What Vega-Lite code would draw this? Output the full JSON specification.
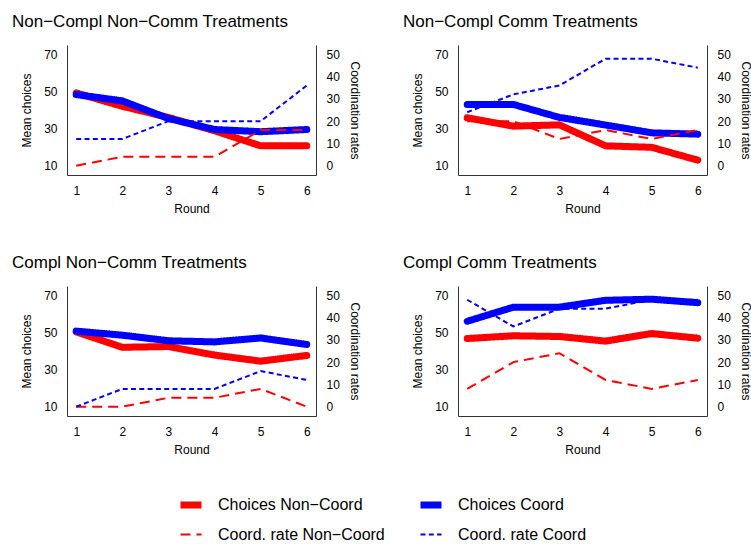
{
  "$schema": "https://vega.github.io/schema/vega-lite/v6.json",
  "background": "white",
  "padding": {"left": 12, "top": 13, "right": 0, "bottom": 0},
  "data": {"values": [
    {"panel": "P1", "round": 1, "series": "Choices Non−Coord", "value": 49.2},
    {"panel": "P1", "round": 2, "series": "Choices Non−Coord", "value": 42},
    {"panel": "P1", "round": 3, "series": "Choices Non−Coord", "value": 36},
    {"panel": "P1", "round": 4, "series": "Choices Non−Coord", "value": 28.8},
    {"panel": "P1", "round": 5, "series": "Choices Non−Coord", "value": 20.7},
    {"panel": "P1", "round": 6, "series": "Choices Non−Coord", "value": 20.7},
    {"panel": "P1", "round": 1, "series": "Choices Coord", "value": 48.3},
    {"panel": "P1", "round": 2, "series": "Choices Coord", "value": 44.9},
    {"panel": "P1", "round": 3, "series": "Choices Coord", "value": 35.4},
    {"panel": "P1", "round": 4, "series": "Choices Coord", "value": 29.5},
    {"panel": "P1", "round": 5, "series": "Choices Coord", "value": 28.3},
    {"panel": "P1", "round": 6, "series": "Choices Coord", "value": 29.5},
    {"panel": "P1", "round": 1, "series": "Coord. rate Non−Coord", "value": 0},
    {"panel": "P1", "round": 2, "series": "Coord. rate Non−Coord", "value": 4},
    {"panel": "P1", "round": 3, "series": "Coord. rate Non−Coord", "value": 4},
    {"panel": "P1", "round": 4, "series": "Coord. rate Non−Coord", "value": 4},
    {"panel": "P1", "round": 5, "series": "Coord. rate Non−Coord", "value": 16},
    {"panel": "P1", "round": 6, "series": "Coord. rate Non−Coord", "value": 16},
    {"panel": "P1", "round": 1, "series": "Coord. rate Coord", "value": 12},
    {"panel": "P1", "round": 2, "series": "Coord. rate Coord", "value": 12},
    {"panel": "P1", "round": 3, "series": "Coord. rate Coord", "value": 20},
    {"panel": "P1", "round": 4, "series": "Coord. rate Coord", "value": 20},
    {"panel": "P1", "round": 5, "series": "Coord. rate Coord", "value": 20},
    {"panel": "P1", "round": 6, "series": "Coord. rate Coord", "value": 36},

    {"panel": "P2", "round": 1, "series": "Choices Non−Coord", "value": 35.8},
    {"panel": "P2", "round": 2, "series": "Choices Non−Coord", "value": 31.3},
    {"panel": "P2", "round": 3, "series": "Choices Non−Coord", "value": 32},
    {"panel": "P2", "round": 4, "series": "Choices Non−Coord", "value": 20.7},
    {"panel": "P2", "round": 5, "series": "Choices Non−Coord", "value": 19.9},
    {"panel": "P2", "round": 6, "series": "Choices Non−Coord", "value": 13},
    {"panel": "P2", "round": 1, "series": "Choices Coord", "value": 43},
    {"panel": "P2", "round": 2, "series": "Choices Coord", "value": 43},
    {"panel": "P2", "round": 3, "series": "Choices Coord", "value": 36},
    {"panel": "P2", "round": 4, "series": "Choices Coord", "value": 31.9},
    {"panel": "P2", "round": 5, "series": "Choices Coord", "value": 27.7},
    {"panel": "P2", "round": 6, "series": "Choices Coord", "value": 27},
    {"panel": "P2", "round": 1, "series": "Coord. rate Non−Coord", "value": 20},
    {"panel": "P2", "round": 2, "series": "Coord. rate Non−Coord", "value": 20},
    {"panel": "P2", "round": 3, "series": "Coord. rate Non−Coord", "value": 12},
    {"panel": "P2", "round": 4, "series": "Coord. rate Non−Coord", "value": 16},
    {"panel": "P2", "round": 5, "series": "Coord. rate Non−Coord", "value": 12},
    {"panel": "P2", "round": 6, "series": "Coord. rate Non−Coord", "value": 16},
    {"panel": "P2", "round": 1, "series": "Coord. rate Coord", "value": 24},
    {"panel": "P2", "round": 2, "series": "Coord. rate Coord", "value": 32},
    {"panel": "P2", "round": 3, "series": "Coord. rate Coord", "value": 36},
    {"panel": "P2", "round": 4, "series": "Coord. rate Coord", "value": 48},
    {"panel": "P2", "round": 5, "series": "Coord. rate Coord", "value": 48},
    {"panel": "P2", "round": 6, "series": "Coord. rate Coord", "value": 44},

    {"panel": "P3", "round": 1, "series": "Choices Non−Coord", "value": 50.3},
    {"panel": "P3", "round": 2, "series": "Choices Non−Coord", "value": 42},
    {"panel": "P3", "round": 3, "series": "Choices Non−Coord", "value": 42.4},
    {"panel": "P3", "round": 4, "series": "Choices Non−Coord", "value": 37.8},
    {"panel": "P3", "round": 5, "series": "Choices Non−Coord", "value": 34.5},
    {"panel": "P3", "round": 6, "series": "Choices Non−Coord", "value": 37.6},
    {"panel": "P3", "round": 1, "series": "Choices Coord", "value": 50.7},
    {"panel": "P3", "round": 2, "series": "Choices Coord", "value": 48.5},
    {"panel": "P3", "round": 3, "series": "Choices Coord", "value": 45.5},
    {"panel": "P3", "round": 4, "series": "Choices Coord", "value": 44.9},
    {"panel": "P3", "round": 5, "series": "Choices Coord", "value": 47},
    {"panel": "P3", "round": 6, "series": "Choices Coord", "value": 43.5},
    {"panel": "P3", "round": 1, "series": "Coord. rate Non−Coord", "value": 0},
    {"panel": "P3", "round": 2, "series": "Coord. rate Non−Coord", "value": 0},
    {"panel": "P3", "round": 3, "series": "Coord. rate Non−Coord", "value": 4},
    {"panel": "P3", "round": 4, "series": "Coord. rate Non−Coord", "value": 4},
    {"panel": "P3", "round": 5, "series": "Coord. rate Non−Coord", "value": 8},
    {"panel": "P3", "round": 6, "series": "Coord. rate Non−Coord", "value": 0},
    {"panel": "P3", "round": 1, "series": "Coord. rate Coord", "value": 0},
    {"panel": "P3", "round": 2, "series": "Coord. rate Coord", "value": 8},
    {"panel": "P3", "round": 3, "series": "Coord. rate Coord", "value": 8},
    {"panel": "P3", "round": 4, "series": "Coord. rate Coord", "value": 8},
    {"panel": "P3", "round": 5, "series": "Coord. rate Coord", "value": 16},
    {"panel": "P3", "round": 6, "series": "Coord. rate Coord", "value": 12},

    {"panel": "P4", "round": 1, "series": "Choices Non−Coord", "value": 46.7},
    {"panel": "P4", "round": 2, "series": "Choices Non−Coord", "value": 48.2},
    {"panel": "P4", "round": 3, "series": "Choices Non−Coord", "value": 47.8},
    {"panel": "P4", "round": 4, "series": "Choices Non−Coord", "value": 45.3},
    {"panel": "P4", "round": 5, "series": "Choices Non−Coord", "value": 49.4},
    {"panel": "P4", "round": 6, "series": "Choices Non−Coord", "value": 46.9},
    {"panel": "P4", "round": 1, "series": "Choices Coord", "value": 56},
    {"panel": "P4", "round": 2, "series": "Choices Coord", "value": 63.6},
    {"panel": "P4", "round": 3, "series": "Choices Coord", "value": 63.6},
    {"panel": "P4", "round": 4, "series": "Choices Coord", "value": 67.3},
    {"panel": "P4", "round": 5, "series": "Choices Coord", "value": 67.9},
    {"panel": "P4", "round": 6, "series": "Choices Coord", "value": 66},
    {"panel": "P4", "round": 1, "series": "Coord. rate Non−Coord", "value": 8},
    {"panel": "P4", "round": 2, "series": "Coord. rate Non−Coord", "value": 20},
    {"panel": "P4", "round": 3, "series": "Coord. rate Non−Coord", "value": 24},
    {"panel": "P4", "round": 4, "series": "Coord. rate Non−Coord", "value": 12},
    {"panel": "P4", "round": 5, "series": "Coord. rate Non−Coord", "value": 8},
    {"panel": "P4", "round": 6, "series": "Coord. rate Non−Coord", "value": 12},
    {"panel": "P4", "round": 1, "series": "Coord. rate Coord", "value": 48},
    {"panel": "P4", "round": 2, "series": "Coord. rate Coord", "value": 36},
    {"panel": "P4", "round": 3, "series": "Coord. rate Coord", "value": 44},
    {"panel": "P4", "round": 4, "series": "Coord. rate Coord", "value": 44},
    {"panel": "P4", "round": 5, "series": "Coord. rate Coord", "value": 48},
    {"panel": "P4", "round": 6, "series": "Coord. rate Coord", "value": 48}
  ]},
  "columns": 2,
  "spacing": {"row": 40, "column": 42},
  "concat": [
    {
      "title": {"text": "Non−Compl Non−Comm Treatments"},
      "width": 249, "height": 130,
      "transform": [{"filter": {"field": "panel", "equal": "P1"}}],
      "layer": [
        {
          "transform": [{"filter": {"field": "series", "oneOf": ["Choices Non−Coord", "Choices Coord"]}}],
          "mark": {"type": "line", "strokeCap": "round", "strokeJoin": "round"},
          "encoding": {
            "x": {"field": "round", "type": "quantitative", "scale": {"domain": [0.8, 6.2], "nice": false, "zero": false}, "axis": {"values": [1, 2, 3, 4, 5, 6], "format": "d", "title": "Round"}},
            "y": {"field": "value", "type": "quantitative", "scale": {"domain": [5, 75], "nice": false, "zero": false}, "axis": {"values": [10, 30, 50, 70], "title": "Mean choices"}},
            "color": {"field": "series", "type": "nominal", "scale": {"domain": ["Choices Non−Coord", "Choices Coord", "Coord. rate Non−Coord", "Coord. rate Coord"], "range": ["#FF0000", "#0000FF", "#FF0000", "#0000FF"]}, "legend": {"orient": "none", "legendX": 110, "legendY": 446, "columns": 2, "direction": "horizontal"}},
            "strokeDash": {"field": "series", "type": "nominal", "scale": {"domain": ["Choices Non−Coord", "Choices Coord", "Coord. rate Non−Coord", "Coord. rate Coord"], "range": [[1, 0], [1, 0], [10, 6], [5, 3.3]]}, "legend": {"orient": "none", "legendX": 110, "legendY": 446, "columns": 2, "direction": "horizontal"}},
            "strokeWidth": {"field": "series", "type": "nominal", "scale": {"type": "ordinal", "domain": ["Choices Non−Coord", "Choices Coord", "Coord. rate Non−Coord", "Coord. rate Coord"], "range": [7, 7, 2, 2]}, "legend": {"orient": "none", "legendX": 110, "legendY": 446, "columns": 2, "direction": "horizontal"}}
          }
        },
        {
          "transform": [{"filter": {"field": "series", "oneOf": ["Coord. rate Non−Coord", "Coord. rate Coord"]}}],
          "mark": {"type": "line"},
          "encoding": {
            "x": {"field": "round", "type": "quantitative", "scale": {"domain": [0.8, 6.2], "nice": false, "zero": false}, "axis": {"values": [1, 2, 3, 4, 5, 6], "format": "d", "title": "Round"}},
            "y": {"field": "value", "type": "quantitative", "scale": {"domain": [-4.1667, 54.1667], "nice": false, "zero": false}, "axis": {"orient": "right", "values": [0, 10, 20, 30, 40, 50], "title": "Coordination rates", "titlePadding": 8}},
            "color": {"field": "series", "type": "nominal", "scale": {"domain": ["Choices Non−Coord", "Choices Coord", "Coord. rate Non−Coord", "Coord. rate Coord"], "range": ["#FF0000", "#0000FF", "#FF0000", "#0000FF"]}},
            "strokeDash": {"field": "series", "type": "nominal", "scale": {"domain": ["Choices Non−Coord", "Choices Coord", "Coord. rate Non−Coord", "Coord. rate Coord"], "range": [[1, 0], [1, 0], [10, 6], [5, 3.3]]}},
            "strokeWidth": {"field": "series", "type": "nominal", "scale": {"type": "ordinal", "domain": ["Choices Non−Coord", "Choices Coord", "Coord. rate Non−Coord", "Coord. rate Coord"], "range": [7, 7, 2, 2]}}
          }
        }
      ],
      "resolve": {"scale": {"y": "independent"}}
    },
    {
      "title": {"text": "Non−Compl Comm Treatments"},
      "width": 249, "height": 130,
      "transform": [{"filter": {"field": "panel", "equal": "P2"}}],
      "layer": [
        {
          "transform": [{"filter": {"field": "series", "oneOf": ["Choices Non−Coord", "Choices Coord"]}}],
          "mark": {"type": "line", "strokeCap": "round", "strokeJoin": "round"},
          "encoding": {
            "x": {"field": "round", "type": "quantitative", "scale": {"domain": [0.8, 6.2], "nice": false, "zero": false}, "axis": {"values": [1, 2, 3, 4, 5, 6], "format": "d", "title": "Round"}},
            "y": {"field": "value", "type": "quantitative", "scale": {"domain": [5, 75], "nice": false, "zero": false}, "axis": {"values": [10, 30, 50, 70], "title": "Mean choices"}},
            "color": {"field": "series", "type": "nominal", "scale": {"domain": ["Choices Non−Coord", "Choices Coord", "Coord. rate Non−Coord", "Coord. rate Coord"], "range": ["#FF0000", "#0000FF", "#FF0000", "#0000FF"]}},
            "strokeDash": {"field": "series", "type": "nominal", "scale": {"domain": ["Choices Non−Coord", "Choices Coord", "Coord. rate Non−Coord", "Coord. rate Coord"], "range": [[1, 0], [1, 0], [10, 6], [5, 3.3]]}},
            "strokeWidth": {"field": "series", "type": "nominal", "scale": {"type": "ordinal", "domain": ["Choices Non−Coord", "Choices Coord", "Coord. rate Non−Coord", "Coord. rate Coord"], "range": [7, 7, 2, 2]}}
          }
        },
        {
          "transform": [{"filter": {"field": "series", "oneOf": ["Coord. rate Non−Coord", "Coord. rate Coord"]}}],
          "mark": {"type": "line"},
          "encoding": {
            "x": {"field": "round", "type": "quantitative", "scale": {"domain": [0.8, 6.2], "nice": false, "zero": false}, "axis": {"values": [1, 2, 3, 4, 5, 6], "format": "d", "title": "Round"}},
            "y": {"field": "value", "type": "quantitative", "scale": {"domain": [-4.1667, 54.1667], "nice": false, "zero": false}, "axis": {"orient": "right", "values": [0, 10, 20, 30, 40, 50], "title": "Coordination rates", "titlePadding": 8}},
            "color": {"field": "series", "type": "nominal", "scale": {"domain": ["Choices Non−Coord", "Choices Coord", "Coord. rate Non−Coord", "Coord. rate Coord"], "range": ["#FF0000", "#0000FF", "#FF0000", "#0000FF"]}},
            "strokeDash": {"field": "series", "type": "nominal", "scale": {"domain": ["Choices Non−Coord", "Choices Coord", "Coord. rate Non−Coord", "Coord. rate Coord"], "range": [[1, 0], [1, 0], [10, 6], [5, 3.3]]}},
            "strokeWidth": {"field": "series", "type": "nominal", "scale": {"type": "ordinal", "domain": ["Choices Non−Coord", "Choices Coord", "Coord. rate Non−Coord", "Coord. rate Coord"], "range": [7, 7, 2, 2]}}
          }
        }
      ],
      "resolve": {"scale": {"y": "independent"}}
    },
    {
      "title": {"text": "Compl Non−Comm Treatments"},
      "width": 249, "height": 130,
      "transform": [{"filter": {"field": "panel", "equal": "P3"}}],
      "layer": [
        {
          "transform": [{"filter": {"field": "series", "oneOf": ["Choices Non−Coord", "Choices Coord"]}}],
          "mark": {"type": "line", "strokeCap": "round", "strokeJoin": "round"},
          "encoding": {
            "x": {"field": "round", "type": "quantitative", "scale": {"domain": [0.8, 6.2], "nice": false, "zero": false}, "axis": {"values": [1, 2, 3, 4, 5, 6], "format": "d", "title": "Round"}},
            "y": {"field": "value", "type": "quantitative", "scale": {"domain": [5, 75], "nice": false, "zero": false}, "axis": {"values": [10, 30, 50, 70], "title": "Mean choices"}},
            "color": {"field": "series", "type": "nominal", "scale": {"domain": ["Choices Non−Coord", "Choices Coord", "Coord. rate Non−Coord", "Coord. rate Coord"], "range": ["#FF0000", "#0000FF", "#FF0000", "#0000FF"]}},
            "strokeDash": {"field": "series", "type": "nominal", "scale": {"domain": ["Choices Non−Coord", "Choices Coord", "Coord. rate Non−Coord", "Coord. rate Coord"], "range": [[1, 0], [1, 0], [10, 6], [5, 3.3]]}},
            "strokeWidth": {"field": "series", "type": "nominal", "scale": {"type": "ordinal", "domain": ["Choices Non−Coord", "Choices Coord", "Coord. rate Non−Coord", "Coord. rate Coord"], "range": [7, 7, 2, 2]}}
          }
        },
        {
          "transform": [{"filter": {"field": "series", "oneOf": ["Coord. rate Non−Coord", "Coord. rate Coord"]}}],
          "mark": {"type": "line"},
          "encoding": {
            "x": {"field": "round", "type": "quantitative", "scale": {"domain": [0.8, 6.2], "nice": false, "zero": false}, "axis": {"values": [1, 2, 3, 4, 5, 6], "format": "d", "title": "Round"}},
            "y": {"field": "value", "type": "quantitative", "scale": {"domain": [-4.1667, 54.1667], "nice": false, "zero": false}, "axis": {"orient": "right", "values": [0, 10, 20, 30, 40, 50], "title": "Coordination rates", "titlePadding": 8}},
            "color": {"field": "series", "type": "nominal", "scale": {"domain": ["Choices Non−Coord", "Choices Coord", "Coord. rate Non−Coord", "Coord. rate Coord"], "range": ["#FF0000", "#0000FF", "#FF0000", "#0000FF"]}},
            "strokeDash": {"field": "series", "type": "nominal", "scale": {"domain": ["Choices Non−Coord", "Choices Coord", "Coord. rate Non−Coord", "Coord. rate Coord"], "range": [[1, 0], [1, 0], [10, 6], [5, 3.3]]}},
            "strokeWidth": {"field": "series", "type": "nominal", "scale": {"type": "ordinal", "domain": ["Choices Non−Coord", "Choices Coord", "Coord. rate Non−Coord", "Coord. rate Coord"], "range": [7, 7, 2, 2]}}
          }
        }
      ],
      "resolve": {"scale": {"y": "independent"}}
    },
    {
      "title": {"text": "Compl Comm Treatments"},
      "width": 249, "height": 130,
      "transform": [{"filter": {"field": "panel", "equal": "P4"}}],
      "layer": [
        {
          "transform": [{"filter": {"field": "series", "oneOf": ["Choices Non−Coord", "Choices Coord"]}}],
          "mark": {"type": "line", "strokeCap": "round", "strokeJoin": "round"},
          "encoding": {
            "x": {"field": "round", "type": "quantitative", "scale": {"domain": [0.8, 6.2], "nice": false, "zero": false}, "axis": {"values": [1, 2, 3, 4, 5, 6], "format": "d", "title": "Round"}},
            "y": {"field": "value", "type": "quantitative", "scale": {"domain": [5, 75], "nice": false, "zero": false}, "axis": {"values": [10, 30, 50, 70], "title": "Mean choices"}},
            "color": {"field": "series", "type": "nominal", "scale": {"domain": ["Choices Non−Coord", "Choices Coord", "Coord. rate Non−Coord", "Coord. rate Coord"], "range": ["#FF0000", "#0000FF", "#FF0000", "#0000FF"]}},
            "strokeDash": {"field": "series", "type": "nominal", "scale": {"domain": ["Choices Non−Coord", "Choices Coord", "Coord. rate Non−Coord", "Coord. rate Coord"], "range": [[1, 0], [1, 0], [10, 6], [5, 3.3]]}},
            "strokeWidth": {"field": "series", "type": "nominal", "scale": {"type": "ordinal", "domain": ["Choices Non−Coord", "Choices Coord", "Coord. rate Non−Coord", "Coord. rate Coord"], "range": [7, 7, 2, 2]}}
          }
        },
        {
          "transform": [{"filter": {"field": "series", "oneOf": ["Coord. rate Non−Coord", "Coord. rate Coord"]}}],
          "mark": {"type": "line"},
          "encoding": {
            "x": {"field": "round", "type": "quantitative", "scale": {"domain": [0.8, 6.2], "nice": false, "zero": false}, "axis": {"values": [1, 2, 3, 4, 5, 6], "format": "d", "title": "Round"}},
            "y": {"field": "value", "type": "quantitative", "scale": {"domain": [-4.1667, 54.1667], "nice": false, "zero": false}, "axis": {"orient": "right", "values": [0, 10, 20, 30, 40, 50], "title": "Coordination rates", "titlePadding": 8}},
            "color": {"field": "series", "type": "nominal", "scale": {"domain": ["Choices Non−Coord", "Choices Coord", "Coord. rate Non−Coord", "Coord. rate Coord"], "range": ["#FF0000", "#0000FF", "#FF0000", "#0000FF"]}},
            "strokeDash": {"field": "series", "type": "nominal", "scale": {"domain": ["Choices Non−Coord", "Choices Coord", "Coord. rate Non−Coord", "Coord. rate Coord"], "range": [[1, 0], [1, 0], [10, 6], [5, 3.3]]}},
            "strokeWidth": {"field": "series", "type": "nominal", "scale": {"type": "ordinal", "domain": ["Choices Non−Coord", "Choices Coord", "Coord. rate Non−Coord", "Coord. rate Coord"], "range": [7, 7, 2, 2]}}
          }
        }
      ],
      "resolve": {"scale": {"y": "independent"}}
    }
  ],
  "config": {
    "font": "Liberation Sans",
    "view": {"stroke": null},
    "title": {"anchor": "start", "frame": "group", "dx": -55, "fontSize": 17, "fontWeight": "normal", "color": "#000000", "font": "Liberation Sans", "offset": 14},
    "axis": {"grid": false, "ticks": false, "domainColor": "#333333", "domainWidth": 1, "labelFont": "Liberation Sans", "labelFontSize": 12, "labelColor": "#000000", "labelPadding": 10, "titleFont": "Liberation Sans", "titleFontSize": 12, "titleFontWeight": "normal", "titleColor": "#000000", "titlePadding": 10},
    "axisX": {"labelPadding": 10, "titlePadding": 7},
    "legend": {"title": null, "symbolType": "stroke", "symbolSize": 441, "labelFont": "Liberation Sans", "labelFontSize": 16, "labelLimit": 300, "labelColor": "#000000", "labelOffset": 13, "rowPadding": 4, "columnPadding": 21, "padding": 0}
  }
}
